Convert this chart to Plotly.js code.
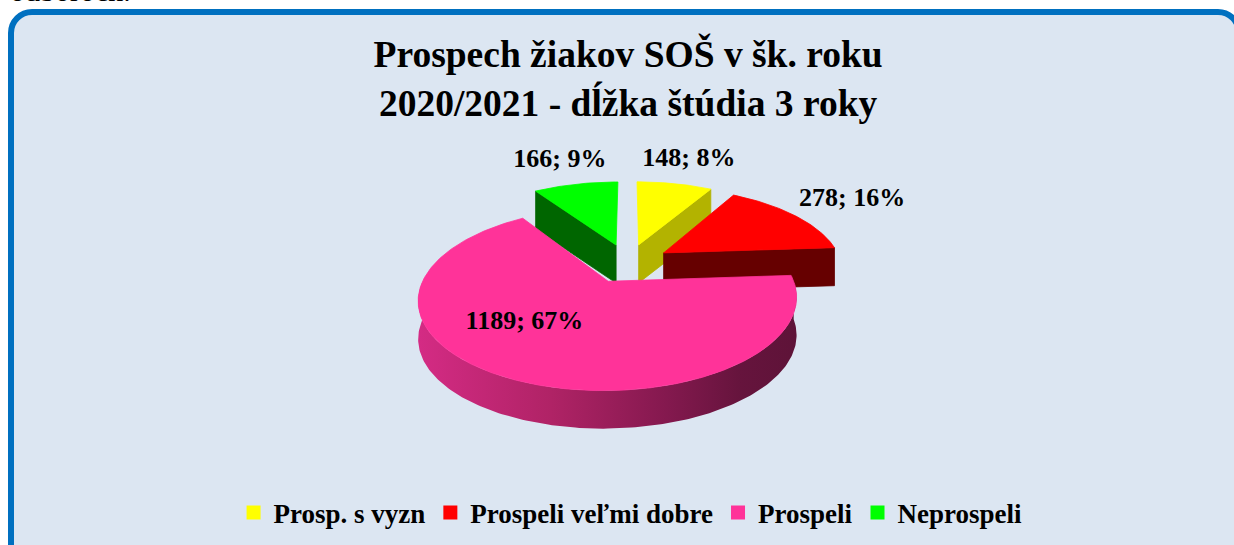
<!DOCTYPE html>
<html>
<head>
<meta charset="utf-8">
<script src="https://cdn.plot.ly/plotly-3.0.1.min.js"></script>
<style>
  html, body { margin:0; padding:0; background:#ffffff; width:1234px; height:545px; overflow:hidden; position:relative; }
  #above { position:absolute; left:10px; top:-24px; font-family:"Liberation Serif", serif; font-size:30px; line-height:30px; color:#000; }
  #frame { position:absolute; left:8px; top:9px; width:1234px; height:560px; box-sizing:border-box;
           border:6px solid #0070c0; border-radius:24px; background:#dce6f2; }
  #chart { position:absolute; left:0; top:0; width:1234px; height:545px; }
</style>
</head>
<body>
<div id="above">odboroch.</div>
<div id="frame"></div>
<div id="chart"></div>
<script>
// ---- data ----
const categories = ['Prosp. s vyzn', 'Prospeli veľmi dobre', 'Prospeli', 'Neprospeli'];
const values = [148, 278, 1189, 166];
const titleLines = ['Prospech žiakov SOŠ v šk. roku', '2020/2021 - dĺžka štúdia 3 roky'];

// ---- styles ----
const topColors = ['#ffff00', '#ff0000', '#ff3399', '#00ff00'];
const sideColors = ['#b3b300', '#660000', '#b0226a', '#006600'];
const pinkSideScale = [[0, '#d42b84'], [0.35, '#b02366'], [0.65, '#85194f'], [0.85, '#66143d'], [1, '#5e1338']];

// ---- layout geometry of the 3D pie (pixel-like axis units) ----
const CX = 628, CY = 263, R = 178, DIST = 950, TILT = 0.455, DEPTH = 38, EXPLODE = 43;
const labelRadius = [1.5, 1.5, 0.59, 1.5];
const labelTurn = [0, 0, 17, 0];

const rad = d => d * Math.PI / 180;
function proj(X, Z) { const s = DIST / (DIST + Z); return [CX + X * s, CY - Z * TILT * s]; }

const total = values.reduce((a, b) => a + b, 0);
let acc = 0;
const slices = values.map((v, i) => {
  const a0 = acc / total * 360; acc += v; const a1 = acc / total * 360;
  const mid = (a0 + a1) / 2;
  return { i, v, a0, a1, mid, ox: EXPLODE * Math.sin(rad(mid)), oz: EXPLODE * Math.cos(rad(mid)) };
});

function arc(sl, b0, b1) {
  const pts = []; const n = Math.max(2, Math.ceil(Math.abs(b1 - b0)) + 1);
  for (let k = 0; k < n; k++) {
    const t = b0 + (b1 - b0) * k / (n - 1);
    pts.push(proj(sl.ox + R * Math.sin(rad(t)), sl.oz + R * Math.cos(rad(t))));
  }
  return pts;
}
function poly(pts, color, extra) {
  return Object.assign({
    type: 'scatter', mode: 'lines', x: pts.map(p => p[0]), y: pts.map(p => p[1]),
    fill: 'toself', fillcolor: color, line: { width: 0.8, color: color },
    hoverinfo: 'skip', showlegend: false
  }, extra || {});
}

const traces = [];
const order = slices.slice().sort((a, b) => b.oz - a.oz);
order.forEach(sl => {
  const vtx = proj(sl.ox, sl.oz);
  const down = p => [p[0], p[1] + DEPTH];
  // cut faces
  [[sl.a0, Math.sin(rad(sl.a0)) < -1e-6], [sl.a1, Math.sin(rad(sl.a1)) > 1e-6]].forEach(([a, vis]) => {
    if (!vis) return;
    const o = proj(sl.ox + R * Math.sin(rad(a)), sl.oz + R * Math.cos(rad(a)));
    traces.push(poly([vtx, o, down(o), down(vtx), vtx], sideColors[sl.i]));
  });
  // outer curved side (front half)
  const s0 = Math.max(sl.a0, 90), s1 = Math.min(sl.a1, 270);
  if (s1 > s0) {
    const top = arc(sl, s0, s1);
    const pts = top.concat(top.slice().reverse().map(down));
    pts.push(top[0]);
    const extra = sl.i === 2 ? { fillgradient: { type: 'horizontal', colorscale: pinkSideScale }, line: { width: 0 } } : {};
    traces.push(poly(pts, sideColors[sl.i], extra));
  }
  // top face
  const topPts = [vtx].concat(arc(sl, sl.a0, sl.a1)); topPts.push(vtx);
  traces.push(poly(topPts, topColors[sl.i]));
});

// data labels
const lx = [], ly = [], lt = [];
slices.forEach(sl => {
  const t = rad(sl.mid + labelTurn[sl.i]); const r = R * labelRadius[sl.i];
  const p = proj(sl.ox + r * Math.sin(t), sl.oz + r * Math.cos(t));
  lx.push(p[0]); ly.push(p[1]);
  lt.push(sl.v + '; ' + Math.round(sl.v / total * 100) + '%');
});
traces.push({
  type: 'scatter', mode: 'text', x: lx, y: ly, text: lt, textposition: 'middle center',
  textfont: { family: 'Liberation Serif', size: 26, color: '#000000', weight: 'bold' },
  hoverinfo: 'skip', showlegend: false
});

// legend entries
categories.forEach((c, i) => traces.push({
  type: 'scatter', mode: 'markers', x: [null], y: [null], name: c,
  marker: { symbol: 'square', size: 14, color: topColors[i] }, hoverinfo: 'skip'
}));

const layout = {
  width: 1234, height: 545,
  margin: { l: 0, r: 0, t: 0, b: 0 },
  paper_bgcolor: 'rgba(0,0,0,0)', plot_bgcolor: 'rgba(0,0,0,0)',
  xaxis: { range: [0, 1234], visible: false, fixedrange: true },
  yaxis: { range: [545, 0], visible: false, fixedrange: true },
  title: {
    text: titleLines.join('<br>'),
    font: { family: 'Liberation Serif', size: 37.5, color: '#000000', weight: 'bold' },
    x: 0.509, xanchor: 'center', xref: 'paper', y: 0.877, yref: 'container', yanchor: 'top'
  },
  showlegend: true,
  legend: {
    orientation: 'h', x: 0.511, xanchor: 'center', y: 0.059, yanchor: 'middle',
    bgcolor: 'rgba(0,0,0,0)',
    font: { family: 'Liberation Serif', size: 27, color: '#000000', weight: 'bold' }
  }
};

Plotly.newPlot('chart', traces, layout, { displayModeBar: false, staticPlot: true });
</script>
</body>
</html>
